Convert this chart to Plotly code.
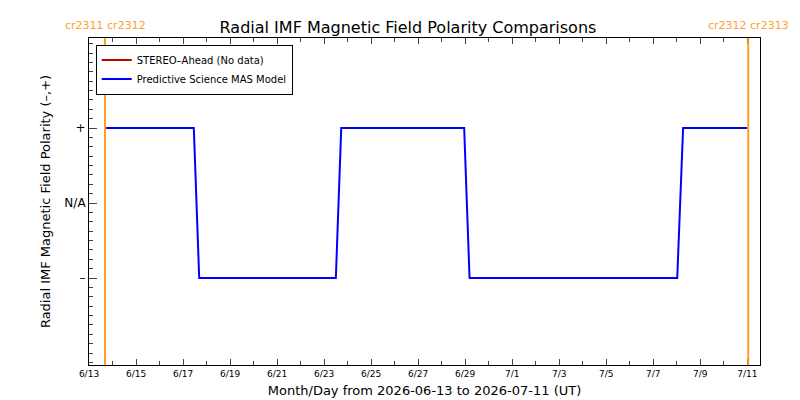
import plotly.graph_objects as go

# MAS model polarity: +1 = "+", 0 = "N/A", -1 = "-"
mas_times = ['2026-06-13 16:00', '2026-06-17 11:00', '2026-06-17 16:30',
             '2026-06-23 12:00', '2026-06-23 17:30', '2026-06-28 23:00',
             '2026-06-29 04:30', '2026-07-08 00:30', '2026-07-08 06:30',
             '2026-07-11 00:00']
mas_polarity = [1, 1, -1, -1, 1, 1, -1, -1, 1, 1]

cr_boundaries = ['2026-06-13 16:20', '2026-07-11 01:00']
cr_labels = ['cr2311 cr2312', 'cr2312 cr2313']

y_ticks = [-1, 0, 1]
y_ticktext = ['\u2013', 'N/A', '+']

orange = '#ff9f2a'
fig = go.Figure()

fig.add_trace(go.Scatter(x=[None], y=[None], mode='lines',
                         line=dict(color='#c00000', width=2),
                         name='STEREO\u2013Ahead (No data)'))
fig.add_trace(go.Scatter(x=mas_times, y=mas_polarity, mode='lines',
                         line=dict(color='#0000ff', width=2),
                         name='Predictive Science MAS Model'))

for t, lab in zip(cr_boundaries, cr_labels):
    fig.add_shape(type='line', x0=t, x1=t, y0=0, y1=1, xref='x', yref='paper',
                  line=dict(color=orange, width=2))
    fig.add_annotation(x=t, y=1, xref='x', yref='paper', yanchor='bottom', yshift=4,
                       text=lab, showarrow=False, xanchor='center',
                       font=dict(color=orange, size=11))

axis_font = dict(family='DejaVu Sans', size=9, color='black')
fig.update_layout(
    width=800, height=400,
    paper_bgcolor='white', plot_bgcolor='white',
    margin=dict(l=81, r=48, t=30, b=43),
    font=dict(family='DejaVu Sans', color='black'),
    title=dict(text='Radial IMF Magnetic Field Polarity Comparisons', x=0.5, y=0.965,
               xanchor='center', font=dict(size=16)),
    showlegend=True,
    legend=dict(x=0.01, y=0.98, xanchor='left', yanchor='top',
                bordercolor='black', borderwidth=1, bgcolor='white',
                font=dict(size=10), tracegroupgap=0, itemwidth=30),
    xaxis=dict(type='date', range=['2026-06-13 00:00', '2026-07-11 13:00'],
               tickformat='%-m/%-d', dtick=2 * 86400000, tick0='2026-06-13',
               ticks='inside', ticklen=6, showgrid=False, zeroline=False,
               showline=True, linecolor='black', mirror='allticks',
               minor=dict(dtick=86400000, ticks='inside', ticklen=4),
               tickfont=axis_font, tickangle=0,
               title=dict(text='Month/Day from 2026-06-13 to 2026-07-11 (UT)',
                          font=dict(size=13), standoff=8)),
    yaxis=dict(range=[-2.16, 2.2], tickvals=y_ticks, ticktext=y_ticktext,
               ticks='inside', ticklen=8, showgrid=False, zeroline=False,
               showline=True, linecolor='black', mirror=True,
               minor=dict(dtick=0.125, ticks='inside', ticklen=4),
               tickfont=dict(family='DejaVu Sans', size=12),
               title=dict(text='Radial IMF Magnetic Field Polarity (\u2013,+)',
                          font=dict(size=13), standoff=10)),
)

fig.write_html("out.html")
